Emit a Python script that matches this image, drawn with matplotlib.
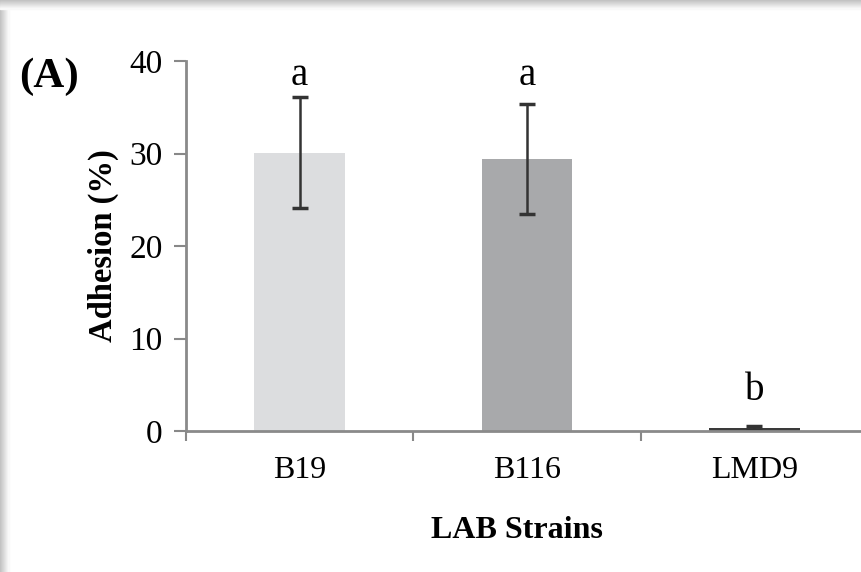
import matplotlib
matplotlib.use("Agg")
import matplotlib.pyplot as plt
from matplotlib.patches import Rectangle

categories = ["B19", "B116", "LMD9"]
values = [30.1, 29.4, 0.3]
errors = [6.0, 5.9, 0.2]
letters = ["a", "a", "b"]
bar_colors = ["#dcdddf", "#a8a9ab", "#3a3a3a"]
yticks = [0, 10, 20, 30, 40]

W, H = 862, 572
fig = plt.figure(figsize=(W / 100, H / 100), dpi=100)
fig.patch.set_facecolor("white")

# shadow frame (top and left)
for i in range(9):
    g = 0.76 + 0.027 * i
    c = (g, g, g)
    fig.patches.append(Rectangle((0, 1 - (i + 1) / H), 1, 1 / H + 0.0005,
                                 transform=fig.transFigure, color=c, zorder=0))
    fig.patches.append(Rectangle((i / W, 0), 1 / W + 0.0005, 1 - i / H,
                                 transform=fig.transFigure, color=c, zorder=0))

plt.rcParams["font.family"] = ["Liberation Serif", "DejaVu Serif"]

left, right = 186 / W, 868 / W
bottom, top = 1 - 431 / H, 1 - 61 / H
ax = fig.add_axes([left, bottom, right - left, top - bottom])
ax.set_facecolor("none")

x = list(range(len(categories)))
ax.bar(x, values, width=0.4, color=bar_colors, zorder=2)
ax.errorbar(x, values, yerr=errors, fmt="none", ecolor="#333333",
            elinewidth=1.8, capsize=6, capthick=2.5, zorder=3)

# significance letters: same letter group sits at a common height
label_y = [37.4, 37.4, 3.4]
for xi, ly, l in zip(x, label_y, letters):
    ax.text(xi, ly, l, ha="center", va="baseline", fontsize=28)

ax.set_xlim(-0.5, 2.5)
ax.set_ylim(0, 40)
ax.set_yticks(yticks)
ax.set_xticks([-0.5, 0.5, 1.5, 2.5])
ax.set_xticklabels([])
ax.set_xticks(x, minor=True)
ax.set_xticklabels(categories, minor=True, fontsize=23)
ax.tick_params(axis="x", which="minor", length=0, pad=18)
ax.tick_params(axis="x", which="major", length=7, width=1.5, color="#888888", direction="out")
ax.tick_params(axis="y", length=9, width=1.5, color="#888888", labelsize=24, pad=8)

for s in ["top", "right"]:
    ax.spines[s].set_visible(False)
for s in ["left", "bottom"]:
    ax.spines[s].set_color("#8a8a8a")
    ax.spines[s].set_linewidth(2)
ax.spines["bottom"].set_zorder(4)

fig.text(103 / W, 1 - 246 / H, "Adhesion (%)", rotation=90, ha="center", va="center",
         fontsize=23.5, fontweight="bold")
fig.text(517 / W, 1 - 530 / H, "LAB Strains", ha="center", va="center",
         fontsize=23, fontweight="bold")
fig.text(49 / W, 1 - 77 / H, "(A)", ha="center", va="center",
         fontsize=31, fontweight="bold")

fig.savefig("out.png", dpi=100)
